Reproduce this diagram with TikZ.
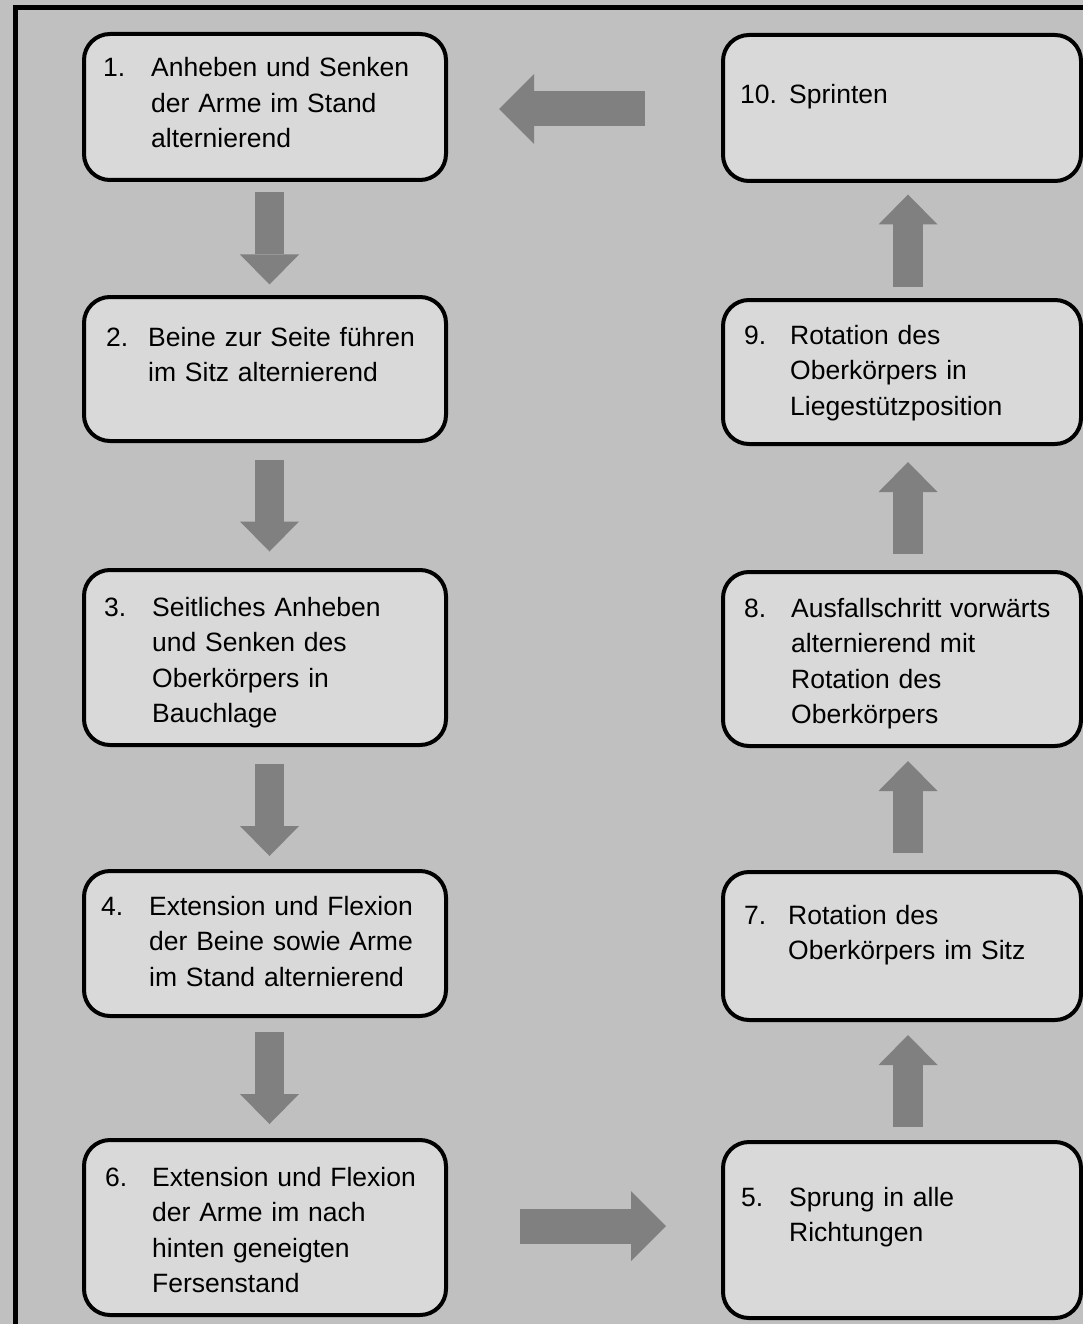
\documentclass[tikz,border=0pt]{standalone}
\usepackage{fontspec}
\setmainfont{Liberation Sans}
\usepackage{tikz}
\usetikzlibrary{arrows.meta,calc}
\definecolor{bggray}{HTML}{C0C0C0}
\definecolor{boxgray}{HTML}{D9D9D9}
\definecolor{arrgray}{HTML}{808080}
\begin{document}
\begin{tikzpicture}[x=1pt,y=-1pt,
box/.style={draw,line width=4pt,fill=boxgray,rounded corners=26pt,inner sep=0pt},
leftbox/.style={box,minimum width=362pt},
rightbox/.style={box,minimum width=358pt},
num/.style={anchor=base west,inner sep=0pt,font=\fontsize{26.5}{35.5}\selectfont},
txt/.style={num,text width=285pt,align=left},
vconn/.style={arrgray,line width=29.5pt,-{Triangle[length=30pt,width=59pt,line width=0pt]}},
hconn/.style={arrgray,line width=35pt,-{Triangle[length=35pt,width=70pt,line width=0pt]}}]
\fill[bggray,use as bounding box] (0,0) rectangle (1083,1324);
\draw[line width=5pt] (15.5,1340) |- (1100,8);
\node[leftbox,minimum height=146pt] (b1) at (265,107) {};
\node[leftbox,minimum height=144pt] (b2) at (265,369) {};
\node[leftbox,minimum height=175pt] (b3) at (265,657.5) {};
\node[leftbox,minimum height=145pt] (b4) at (265,943.5) {};
\node[leftbox,minimum height=175pt] (b6) at (265,1227.5) {};
\node[rightbox,minimum height=146pt] (b10) at (902,108) {};
\node[rightbox,minimum height=144pt] (b9) at (902,372) {};
\node[rightbox,minimum height=174pt] (b8) at (902,659) {};
\node[rightbox,minimum height=148pt] (b7) at (902,946) {};
\node[rightbox,minimum height=176pt] (b5) at (902,1230) {};
\node[num] (n1) at (103,77) {1.};
\node[txt] (t1) at (151,77) {Anheben und Senken\\der Arme im Stand\\alternierend};
\node[num] (n2) at (106,346) {2.};
\node[txt] (t2) at (148,346) {Beine zur Seite führen\\im Sitz alternierend};
\node[num] (n3) at (104,616) {3.};
\node[txt] (t3) at (152,616) {Seitliches Anheben\\und Senken des\\Oberkörpers in\\Bauchlage};
\node[num] (n4) at (101,915) {4.};
\node[txt] (t4) at (149,915) {Extension und Flexion\\der Beine sowie Arme\\im Stand alternierend};
\node[num] (n6) at (105,1186) {6.};
\node[txt] (t6) at (152,1186) {Extension und Flexion\\der Arme im nach\\hinten geneigten\\Fersenstand};
\node[num] (n10) at (740,104) {10.};
\node[txt] (t10) at (789,104) {Sprinten};
\node[num] (n9) at (744,344) {9.};
\node[txt] (t9) at (790,344) {Rotation des\\Oberkörpers in\\Liegestützposition};
\node[num] (n8) at (744,617) {8.};
\node[txt] (t8) at (791,617) {Ausfallschritt vorwärts\\alternierend mit\\Rotation des\\Oberkörpers};
\node[num] (n7) at (744,924) {7.};
\node[txt] (t7) at (788,924) {Rotation des\\Oberkörpers im Sitz};
\node[num] (n5) at (741,1206) {5.};
\node[txt] (t5) at (789,1206) {Sprung in alle\\Richtungen};
\draw[vconn] ($(b1.south)!.5!(b2.north)+(4.5,-46)$) -- ++(0,92);
\draw[vconn] ($(b2.south)!.5!(b3.north)+(4.5,-46)$) -- ++(0,92);
\draw[vconn] ($(b3.south)!.5!(b4.north)+(4.5,-44)$) -- ++(0,92);
\draw[vconn] ($(b4.south)!.5!(b6.north)+(4.5,-46)$) -- ++(0,92);
\draw[vconn] ($(b5.north)!.5!(b7.south)+(6,46)$) -- ++(0,-92);
\draw[vconn] ($(b7.north)!.5!(b8.south)+(6,44)$) -- ++(0,-92);
\draw[vconn] ($(b8.north)!.5!(b9.south)+(6,46)$) -- ++(0,-92);
\draw[vconn] ($(b9.north)!.5!(b10.south)+(6,46)$) -- ++(0,-92);
\draw[hconn] ([shift={(-76,1)}]b10.west) -- ([shift={(51,2)}]b1.east);
\draw[hconn] ([shift={(72,-1.5)}]b6.east) -- ([shift={(-55,-4)}]b5.west);
\end{tikzpicture}
\end{document}
